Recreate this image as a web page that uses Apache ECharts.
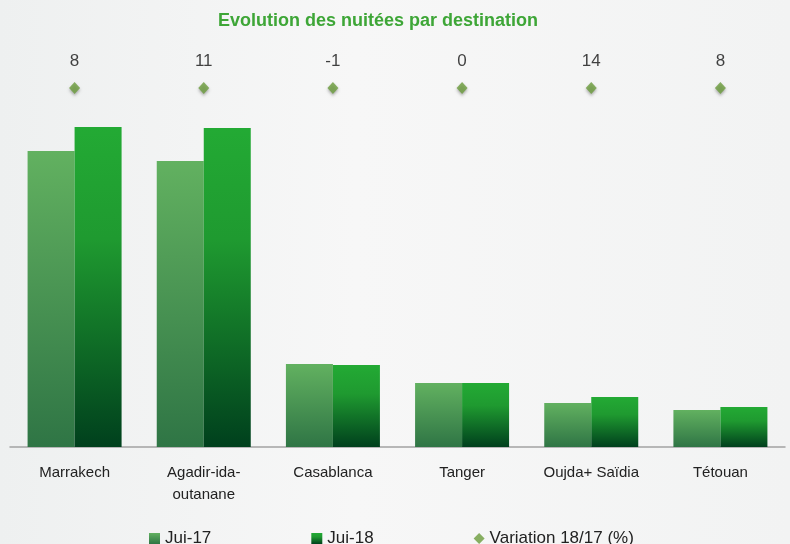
<!DOCTYPE html>
<html>
<head>
<meta charset="utf-8">
<script src="https://cdn.jsdelivr.net/npm/echarts@6/dist/echarts.min.js"></script>
<style>
  html, body { margin: 0; padding: 0; background: #f3f4f4; }
  #chart { width: 790px; height: 544px; }
</style>
</head>
<body>
<div id="chart"></div>
<script>
// 目的地
var destinations = ['Marrakech', 'Agadir-ida-outanane', 'Casablanca', 'Tanger', 'Oujda+ Saïdia', 'Tétouan'];
// 夜数 (milliers)
var jui17 = [296, 286, 83, 64, 44, 37];
var jui18 = [320, 319, 82, 64, 50, 40];
// 变化率 %
var variation = [8, 11, -1, 0, 14, 8];

var font = '"Liberation Sans Narrow", "Liberation Sans", sans-serif';

var chart = echarts.init(document.getElementById('chart'));
var option = {
    backgroundColor: {
        type: 'linear', x: 0, y: 0, x2: 1, y2: 0,
        colorStops: [
            { offset: 0, color: '#eef0f0' },
            { offset: 0.45, color: '#f7f7f7' },
            { offset: 1, color: '#f2f3f3' }
        ]
    },
    title: {
        text: 'Evolution des nuitées par destination',
        left: 373,
        textAlign: 'center',
        top: 7,
        textStyle: { color: '#3ea637', fontSize: 18, fontWeight: 'bold', fontFamily: font }
    },
    legend: {
        top: 525,
        left: 144,
        itemWidth: 11,
        itemHeight: 11,
        itemGap: 100,
        textStyle: { fontSize: 17, color: '#222', fontFamily: font },
        data: [
            { name: 'Jui-17', icon: 'rect' },
            { name: 'Jui-18', icon: 'rect' },
            { name: 'Variation 18/17 (%)', icon: 'diamond' }
        ]
    },
    grid: [
        { left: 10, right: 5, top: 107, bottom: 97 },
        { left: 10, right: 5, top: 78, height: 20 }
    ],
    xAxis: [{
        type: 'category',
        gridIndex: 0,
        data: destinations,
        axisTick: { show: false },
        axisLine: { lineStyle: { color: '#a3a3a3', width: 1.5 } },
        axisLabel: {
            margin: 15,
            interval: 0,
            color: '#222',
            fontSize: 15,
            lineHeight: 22,
            fontFamily: font,
            formatter: function (v) { return v.replace('ida-', 'ida-\n'); }
        }
    }, {
        type: 'category',
        gridIndex: 1,
        data: destinations,
        show: false
    }],
    yAxis: [{
        type: 'value',
        gridIndex: 0,
        min: 0,
        max: 340,
        show: false
    }, {
        type: 'category',
        gridIndex: 1,
        data: ['var'],
        show: false
    }],
    series: [{
        name: 'Jui-17',
        type: 'bar',
        data: jui17,
        barWidth: 47,
        barGap: '0%',
        itemStyle: {
            color: {
                type: 'linear', x: 0, y: 0, x2: 0, y2: 1,
                colorStops: [
                    { offset: 0, color: '#62b160' },
                    { offset: 1, color: '#2f7545' }
                ]
            },
            shadowBlur: 4,
            shadowOffsetX: 2,
            shadowColor: 'rgba(0,0,0,0.18)'
        }
    }, {
        name: 'Jui-18',
        type: 'bar',
        data: jui18,
        barWidth: 47,
        itemStyle: {
            color: {
                type: 'linear', x: 0, y: 0, x2: 0, y2: 1,
                colorStops: [
                    { offset: 0, color: '#23aa34' },
                    { offset: 0.35, color: '#1f9a30' },
                    { offset: 1, color: '#00401d' }
                ]
            },
            shadowBlur: 4,
            shadowOffsetX: 2,
            shadowColor: 'rgba(0,0,0,0.18)'
        }
    }, {
        name: 'Variation 18/17 (%)',
        type: 'scatter',
        xAxisIndex: 1,
        yAxisIndex: 1,
        symbol: 'diamond',
        symbolSize: [11, 12],
        data: variation.map(function (v, i) { return [i, 0, v]; }),
        itemStyle: {
            color: '#6b9c3c',
            shadowBlur: 3,
            shadowOffsetY: 2,
            shadowColor: 'rgba(0,0,0,0.35)'
        },
        label: {
            show: true,
            position: 'top',
            distance: 12,
            color: '#111',
            fontSize: 17,
            fontFamily: font,
            formatter: function (p) { return p.value[2]; }
        }
    }]
};
chart.setOption(option);
</script>
</body>
</html>
